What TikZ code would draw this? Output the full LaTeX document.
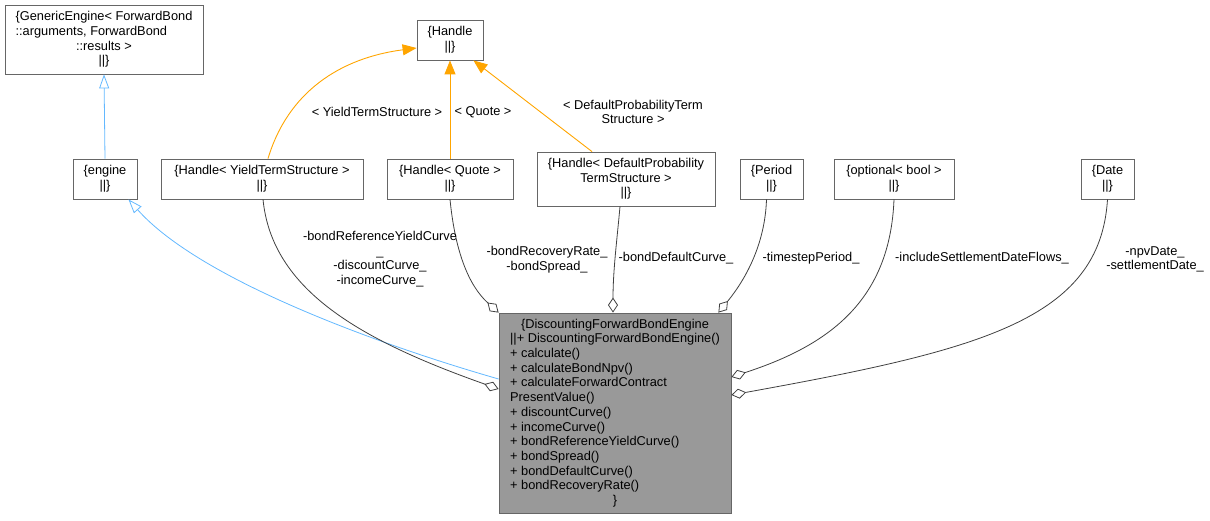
\documentclass[tikz,border=0pt]{standalone}
\usepackage{fontspec}
\setmainfont{Liberation Sans}
\usetikzlibrary{arrows.meta}
\definecolor{edgegray}{HTML}{404040}
\definecolor{boxgray}{HTML}{666666}
\definecolor{mainfill}{HTML}{999999}
\definecolor{inhblue}{HTML}{63B8FF}
\definecolor{tplorange}{HTML}{FFA500}
\newlength{\mainw}
\newlength{\genw}
\AtBeginDocument{%
  \settowidth{\mainw}{\fontsize{12.8}{14.7}\selectfont ||+ DiscountingForwardBondEngine()}%
  \settowidth{\genw}{\fontsize{12.8}{14.7}\selectfont \{GenericEngine< ForwardBond}}
\newcommand{\mrow}[1]{\makebox[\mainw][l]{#1}}

\begin{document}
\begin{tikzpicture}[x=1pt, y=-1pt,
  font=\fontsize{12.8}{14.7}\selectfont,
  box/.style={draw=boxgray, line width=0.8pt, fill=white, align=center, inner sep=0pt},
  lbl/.style={align=center, inner sep=0pt},
  inh/.style={draw=inhblue, line width=0.8pt, -{Triangle[open, length=14pt, width=10pt]}},
  tpl/.style={draw=tplorange, line width=0.9pt, -{Triangle[length=14pt, width=11pt]}},
  usage/.style={draw=edgegray, line width=0.8pt, -{Diamond[open, length=15pt, width=10pt]}}]
\useasboundingbox (0,0) rectangle (1210,520);

% classes
\node[box, minimum width=198pt, minimum height=69pt] (gen) at (104,39.5) {\{GenericEngine< ForwardBond\\\makebox[\genw][l]{::arguments, ForwardBond}\\::results >\\||\}};
\node[box, minimum width=66pt, minimum height=40pt] (handle) at (450,40) {\{Handle\\||\}};
\node[box, minimum width=64pt, minimum height=40pt] (engine) at (105,179) {\{engine\\||\}};
\node[box, minimum width=202pt, minimum height=40pt] (hyts) at (262,179) {\{Handle< YieldTermStructure >\\||\}};
\node[box, minimum width=126pt, minimum height=40pt] (hquote) at (450,179) {\{Handle< Quote >\\||\}};
\node[box, minimum width=178pt, minimum height=54pt] (hdpts) at (626,179) {\{Handle< DefaultProbability\\TermStructure >\\||\}};
\node[box, minimum width=63pt, minimum height=40pt] (period) at (771.5,179) {\{Period\\||\}};
\node[box, minimum width=120pt, minimum height=40pt] (optbool) at (894,179) {\{optional< bool >\\||\}};
\node[box, minimum width=53pt, minimum height=40pt] (date) at (1107.5,179) {\{Date\\||\}};
\node[box, fill=mainfill, minimum width=232pt, minimum height=200pt] (main) at (615,413) {\{DiscountingForwardBondEngine\\
\mrow{||+ DiscountingForwardBondEngine()}\\
\mrow{+ calculate()}\\
\mrow{+ calculateBondNpv()}\\
\mrow{+ calculateForwardContract}\\
\mrow{PresentValue()}\\
\mrow{+ discountCurve()}\\
\mrow{+ incomeCurve()}\\
\mrow{+ bondReferenceYieldCurve()}\\
\mrow{+ bondSpread()}\\
\mrow{+ bondDefaultCurve()}\\
\mrow{+ bondRecoveryRate()}\\
\}};

% inheritance
\draw[inh] (engine.north) -- (gen.south);
\draw[inh] ([yshift=34pt]main.west) .. controls (380,345) and (200,280) .. (engine.-41);

% template instances
\draw[tpl] ([xshift=6pt]hyts.north) .. controls (288,92) and (340,58) .. ([yshift=-8pt]handle.west);
\draw[tpl] (hquote.north) -- (handle.south);
\draw[tpl] ([xshift=-34pt]hdpts.north) -- ([xshift=-10pt]handle.south east);
\node[lbl] (lyts) at (377,112) {< YieldTermStructure >};
\node[lbl] (lquote) at (483,112) {< Quote >};
\node[lbl] (ldpts) at (633,112) {< DefaultProbabilityTerm\\Structure >};

% members
\draw[usage] ([xshift=1pt]hyts.south) .. controls (272,290) and (360,340) .. ([yshift=24pt]main.west);
\draw[usage] (hquote.south) .. controls (455,250) and (468,285) .. (main.north west);
\draw[usage] ([xshift=-6pt]hdpts.south) .. controls (617,240) and (613,270) .. ([xshift=-2pt]main.north);
\draw[usage] ([xshift=-5pt]period.south) .. controls (765,245) and (745,280) .. ([xshift=-13pt]main.north east);
\draw[usage] (optbool.south) .. controls (890,300) and (830,345) .. ([yshift=36pt]main.east);
\draw[usage] (date.south) .. controls (1100,320) and (980,350) .. ([yshift=18pt]main.east);
\node[lbl] (lcurves) at (380,259) {-bondReferenceYieldCurve\\\_\\-discountCurve\_\\-incomeCurve\_};
\node[lbl] (lrate) at (547,259.5) {-bondRecoveryRate\_\\-bondSpread\_};
\node[lbl] (ldefault) at (676,258) {-bondDefaultCurve\_};
\node[lbl] (lperiod) at (811,258) {-timestepPeriod\_};
\node[lbl] (lflows) at (982,258) {-includeSettlementDateFlows\_};
\node[lbl] (ldates) at (1155,259.5) {-npvDate\_\\-settlementDate\_};
\end{tikzpicture}
\end{document}
